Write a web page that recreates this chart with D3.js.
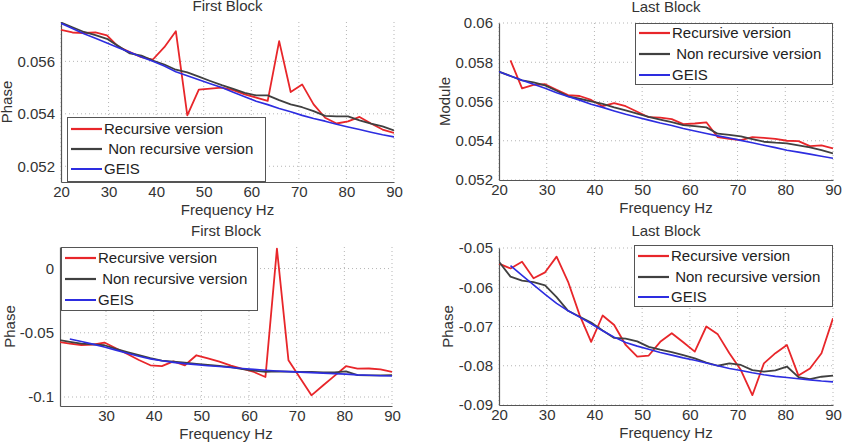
<!DOCTYPE html>
<html>
<head>
<meta charset="utf-8">
<script src="https://cdn.jsdelivr.net/npm/d3@7/dist/d3.min.js"></script>
<style>
  html, body { margin: 0; padding: 0; background: #fff; }
  svg { display: block; }
  text { font-family: "Liberation Sans", Arial, sans-serif; fill: #333; }
</style>
</head>
<body>
<svg id="chart" width="842" height="447"></svg>
<script>
// ---------- data ----------
const freq = [20, 22.41, 24.83, 27.24, 29.66, 32.07, 34.48, 36.9, 39.31, 41.72,
  44.14, 46.55, 48.97, 51.38, 53.79, 56.21, 58.62, 61.03, 63.45, 65.86,
  68.28, 70.69, 73.1, 75.52, 77.93, 80.34, 82.76, 85.17, 87.59, 90];

const seriesNames = ["Recursive version", "\u00A0Non recursive version", "GEIS"];
const titles = ["First Block", "Last Block", "First Block", "Last Block"];
const yLabels = ["Phase", "Module", "Phase", "Phase"];
const xLabel = "Frequency Hz";

const xTicksFull = [20, 30, 40, 50, 60, 70, 80, 90];
const xTicksNo20 = [30, 40, 50, 60, 70, 80, 90];
const p1YTicks = [0.052, 0.054, 0.056];
const p1YTickLabels = ["0.052", "0.054", "0.056"];
const p2YTicks = [0.052, 0.054, 0.056, 0.058, 0.06];
const p2YTickLabels = ["0.052", "0.054", "0.056", "0.058", "0.06"];
const p3YTicks = [-0.1, -0.05, 0];
const p3YTickLabels = ["-0.1", "-0.05", "0"];
const p4YTicks = [-0.09, -0.08, -0.07, -0.06, -0.05];
const p4YTickLabels = ["-0.09", "-0.08", "-0.07", "-0.06", "-0.05"];

// Panel 1: First Block (Phase, top-left)
const p1Red = [0.0572, 0.0571, 0.05708, 0.0571, 0.05699, 0.05655, 0.05635, 0.05616, 0.05607, 0.05654,
  0.05715, 0.05394, 0.05492, 0.05496, 0.0550, 0.0549, 0.05474, 0.05462, 0.05449, 0.05677,
  0.05483, 0.05512, 0.05436, 0.05385, 0.05363, 0.05371, 0.05388, 0.05363, 0.0534, 0.05327];
const p1Black = [0.05748, 0.0573, 0.05712, 0.057, 0.05686, 0.05658, 0.0563, 0.05622, 0.05603, 0.05588,
  0.05568, 0.05558, 0.05542, 0.05525, 0.05509, 0.05495, 0.0548, 0.0547, 0.0547, 0.05452,
  0.05436, 0.05425, 0.0541, 0.05392, 0.0539, 0.0539, 0.05375, 0.05363, 0.05352, 0.05337];
const p1Blue = [0.05745, 0.05725, 0.05705, 0.05688, 0.0567, 0.05652, 0.05635, 0.05617, 0.056, 0.05582,
  0.0556, 0.05545, 0.0553, 0.05515, 0.055, 0.05482, 0.05465, 0.05448, 0.05435, 0.0542,
  0.05408, 0.05394, 0.05382, 0.05372, 0.0536, 0.0535, 0.0534, 0.0533, 0.0532, 0.05312];

// Panel 2: Last Block (Module, top-right)
const p2Red = [null, 0.0581, 0.05667, 0.05685, 0.05688, 0.0566, 0.05633, 0.05628, 0.05608, 0.05576,
  0.05592, 0.05576, 0.05548, 0.0552, 0.05518, 0.0551, 0.05485, 0.05488, 0.05494, 0.05418,
  0.0541, 0.05403, 0.05418, 0.05415, 0.0541, 0.054, 0.05398, 0.05373, 0.05376, 0.05361];
const p2Black = [0.05752, 0.0573, 0.05708, 0.05698, 0.05682, 0.05655, 0.05626, 0.05614, 0.05601, 0.05588,
  0.0557, 0.05555, 0.05538, 0.05522, 0.05508, 0.05495, 0.0548, 0.05474, 0.05468, 0.05436,
  0.0543, 0.05422, 0.05408, 0.05395, 0.0539, 0.05387, 0.05377, 0.05366, 0.05352, 0.05336];
const p2Blue = [0.05752, 0.0573, 0.05708, 0.05688, 0.05668, 0.05645, 0.05625, 0.05607, 0.05586, 0.0557,
  0.05552, 0.05535, 0.0552, 0.05505, 0.0549, 0.05478, 0.05462, 0.0545, 0.05437, 0.05425,
  0.05414, 0.05402, 0.0539, 0.05377, 0.05365, 0.05352, 0.05342, 0.05332, 0.05321, 0.05311];

// Panel 3: First Block (Phase, bottom-left)
const p3Red = [-0.057, -0.0585, -0.0595, -0.0592, -0.0576, -0.062, -0.0665, -0.0712, -0.0753, -0.0759,
  -0.0722, -0.0753, -0.0675, -0.07, -0.0725, -0.0755, -0.078, -0.0805, -0.0844, 0.0155,
  -0.0714, -0.085, -0.0987, -0.091, -0.0835, -0.076, -0.0779, -0.0778, -0.0785, -0.0805];
const p3Black = [-0.0555, -0.057, -0.0585, -0.059, -0.0597, -0.0625, -0.065, -0.0673, -0.0697, -0.0716,
  -0.0725, -0.0733, -0.0742, -0.075, -0.0758, -0.0767, -0.0783, -0.0795, -0.0805, -0.08,
  -0.0803, -0.0805, -0.0805, -0.0808, -0.0808, -0.08, -0.083, -0.0832, -0.0831, -0.083];
const p3Blue = [null, -0.0548, -0.0568, -0.0588, -0.061, -0.0635, -0.066, -0.0683, -0.0703, -0.0718,
  -0.073, -0.074, -0.0748, -0.0756, -0.0763, -0.077, -0.0778, -0.0785, -0.0792, -0.0797,
  -0.0802, -0.0806, -0.081, -0.0814, -0.0818, -0.0822, -0.0828, -0.0831, -0.0834, -0.0836];

// Panel 4: Last Block (Phase, bottom-right)
const p4Red = [-0.054, -0.0552, -0.0535, -0.0577, -0.0562, -0.0522, -0.0586, -0.0671, -0.0739, -0.0672,
  -0.0696, -0.0747, -0.0777, -0.0774, -0.0739, -0.0717, -0.074, -0.0764, -0.07, -0.072,
  -0.0768, -0.0811, -0.0875, -0.0794, -0.0768, -0.0747, -0.0825, -0.0807, -0.0768, -0.0679];
const p4Black = [-0.0535, -0.0573, -0.0583, -0.0587, -0.0595, -0.0625, -0.066, -0.0675, -0.069, -0.071,
  -0.0729, -0.0731, -0.0738, -0.0752, -0.0759, -0.0765, -0.0773, -0.0781, -0.0792, -0.08,
  -0.0794, -0.0798, -0.0811, -0.0815, -0.0812, -0.0802, -0.0829, -0.0834, -0.0828, -0.0825];
const p4Blue = [null, -0.0545, -0.057, -0.0594, -0.0618, -0.0641, -0.066, -0.0676, -0.0693, -0.0711,
  -0.0727, -0.0741, -0.075, -0.0758, -0.0766, -0.0773, -0.078, -0.0786, -0.0793, -0.08,
  -0.0807, -0.0812, -0.0818, -0.0823, -0.0827, -0.083, -0.0833, -0.0836, -0.0839, -0.0841];

// ---------- layout / style ----------
const colors = ["#e8262a", "#404040", "#2d2de0"];
const widths = [1.8, 1.8, 1.6];
const FONT = 15;

const panels = [
  { title: titles[0], ylab: yLabels[0], x0: 61, x1: 394, y0: 22, y1: 182,
    xd: [20, 90], yd: [0.0514, 0.0575], xt: xTicksFull, yt: p1YTicks, ytl: p1YTickLabels,
    series: [p1Red, p1Black, p1Blue], titleY: 11, ylabX: 12,
    legend: { x: 67, y: 117, w: 199, h: 65, rows: [12, 32, 52] } },
  { title: titles[1], ylab: yLabels[1], x0: 499, x1: 833, y0: 23, y1: 180,
    xd: [20, 90], yd: [0.052, 0.06], xt: xTicksFull, yt: p2YTicks, ytl: p2YTickLabels,
    series: [p2Red, p2Black, p2Blue], titleY: 11.5, ylabX: 449.5,
    legend: { x: 635, y: 23, w: 198, h: 62, rows: [10, 31, 52] } },
  { title: titles[2], ylab: yLabels[2], x0: 60, x1: 392, y0: 247, y1: 406,
    xd: [20.35, 90], yd: [-0.107, 0.0168], xt: xTicksNo20, yt: p3YTicks, ytl: p3YTickLabels,
    series: [p3Red, p3Black, p3Blue], titleY: 236, ylabX: 15,
    legend: { x: 61, y: 247, w: 197, h: 64, rows: [11, 32, 53] } },
  { title: titles[3], ylab: yLabels[3], x0: 499, x1: 833, y0: 248, y1: 405,
    xd: [20, 90], yd: [-0.09, -0.05], xt: xTicksFull, yt: p4YTicks, ytl: p4YTickLabels,
    series: [p4Red, p4Black, p4Blue], titleY: 236, ylabX: 453,
    legend: { x: 634, y: 245, w: 199, h: 62, rows: [11, 32, 52] } }
];

const svg = d3.select("#chart");

panels.forEach((p, pi) => {
  const x = d3.scaleLinear().domain(p.xd).range([p.x0, p.x1]);
  const y = d3.scaleLinear().domain(p.yd).range([p.y1, p.y0]);
  const g = svg.append("g");

  const clipId = "clip" + pi;
  svg.append("clipPath").attr("id", clipId)
    .append("rect").attr("x", p.x0).attr("y", p.y0)
    .attr("width", p.x1 - p.x0).attr("height", p.y1 - p.y0);

  // grid
  g.append("g").selectAll("line").data(p.xt).join("line")
    .attr("x1", d => x(d)).attr("x2", d => x(d))
    .attr("y1", p.y0).attr("y2", p.y1)
    .attr("stroke", "#b5b5b5").attr("stroke-width", 1)
    .attr("stroke-dasharray", "1,3");
  g.append("g").selectAll("line").data(p.yt).join("line")
    .attr("x1", p.x0).attr("x2", p.x1)
    .attr("y1", d => y(d)).attr("y2", d => y(d))
    .attr("stroke", "#b5b5b5").attr("stroke-width", 1)
    .attr("stroke-dasharray", "1,3");

  // axes (left + bottom) via d3 axes
  const xAxis = d3.axisBottom(x).tickValues(p.xt).tickSize(0).tickPadding(4)
    .tickFormat(d3.format("d"));
  const gx = g.append("g").attr("transform", `translate(0,${p.y1})`).call(xAxis);
  gx.select(".domain").attr("stroke", "#555").attr("stroke-width", 1.2);
  gx.selectAll("text").style("font-size", FONT + "px").style("fill", "#333")
    .style("font-family", '"Liberation Sans", Arial, sans-serif');

  const yAxis = d3.axisLeft(y).tickValues(p.yt).tickSize(0).tickPadding(6)
    .tickFormat((d, i) => p.ytl[i]);
  const gy = g.append("g").attr("transform", `translate(${p.x0},0)`).call(yAxis);
  gy.select(".domain").attr("stroke", "#555").attr("stroke-width", 1.2);
  gy.selectAll("text").style("font-size", FONT + "px").style("fill", "#333")
    .style("font-family", '"Liberation Sans", Arial, sans-serif');

  // lines
  const lg = g.append("g").attr("clip-path", `url(#${clipId})`);
  p.series.forEach((vals, si) => {
    const line = d3.line()
      .defined((d, i) => vals[i] !== null)
      .x((d, i) => x(freq[i]))
      .y((d, i) => y(vals[i]));
    lg.append("path").datum(vals)
      .attr("d", line)
      .attr("fill", "none")
      .attr("stroke", colors[si])
      .attr("stroke-width", widths[si])
      .attr("stroke-linejoin", "round");
  });

  // title
  g.append("text").attr("x", (p.x0 + p.x1) / 2).attr("y", p.titleY)
    .attr("text-anchor", "middle").style("font-size", FONT + "px").text(p.title);
  // x label
  g.append("text").attr("x", (p.x0 + p.x1) / 2).attr("y", p.y1 + 33)
    .attr("text-anchor", "middle").style("font-size", FONT + "px").text(xLabel);
  // y label
  g.append("text")
    .attr("transform", `translate(${p.ylabX},${(p.y0 + p.y1) / 2}) rotate(-90)`)
    .attr("text-anchor", "middle").style("font-size", FONT + "px").text(p.ylab);

  // legend
  const L = p.legend;
  const lgd = g.append("g");
  lgd.append("rect").attr("x", L.x + 0.5).attr("y", L.y + 0.5)
    .attr("width", L.w - 1).attr("height", L.h - 1)
    .attr("fill", "#fff").attr("stroke", "#555").attr("stroke-width", 1);
  seriesNames.forEach((name, si) => {
    const ry = L.y + L.rows[si];
    lgd.append("line").attr("x1", L.x + 4).attr("x2", L.x + 35)
      .attr("y1", ry).attr("y2", ry)
      .attr("stroke", colors[si]).attr("stroke-width", widths[si] + 0.4);
    lgd.append("text").attr("x", L.x + 37).attr("y", ry).attr("dy", "0.36em")
      .style("font-size", FONT + "px").style("fill", "#222").text(name);
  });
});
</script>
</body>
</html>
